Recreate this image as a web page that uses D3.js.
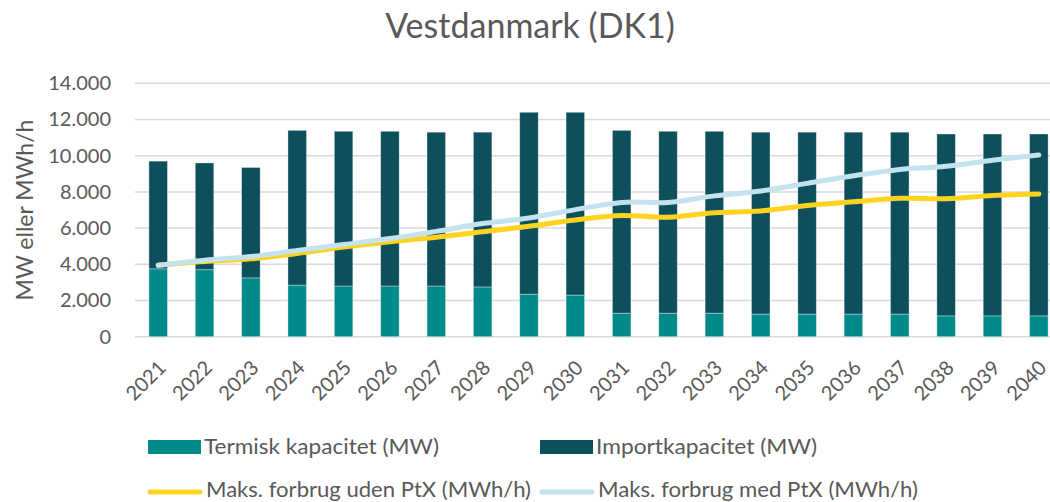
<!DOCTYPE html>
<html>
<head>
<meta charset="utf-8">
<script src="https://cdn.jsdelivr.net/npm/d3@7"></script>
<style>
  body { margin: 0; background: #fff; }
  svg { display: block; font-family: Lato, "Open Sans", sans-serif; }
</style>
</head>
<body>
<svg id="chart" width="1050" height="502"></svg>
<script>
// data
var years = ["2021","2022","2023","2024","2025","2026","2027","2028","2029","2030",
             "2031","2032","2033","2034","2035","2036","2037","2038","2039","2040"];
var termisk = [3750,3700,3250,2850,2800,2800,2800,2750,2350,2300,
               1300,1300,1300,1250,1250,1250,1250,1150,1150,1150];
var totalKap = [9700,9600,9350,11400,11350,11350,11300,11300,12400,12400,
                11400,11350,11350,11300,11300,11300,11300,11200,11200,11200];
var importKap = totalKap.map(function(t, i){ return t - termisk[i]; });
var udenPtX = [3950,4150,4300,4600,4950,5250,5500,5800,6100,6450,
               6700,6600,6850,6950,7250,7450,7650,7620,7800,7890];
var medPtX = [3950,4230,4430,4760,5090,5420,5820,6250,6560,7020,
              7420,7420,7780,8050,8470,8890,9240,9420,9750,10040];
var yTicks = [0,2000,4000,6000,8000,10000,12000,14000];

var textColor = "#595959";
var cTermisk = "#008A8A", cImport = "#0D4F5C";
var cUden = "#FFD320", cMed = "#C5E3EF";

var svg = d3.select("#chart");

var x = d3.scaleBand()
    .domain(years)
    .range([135, 1062])
    .paddingInner(0.6)
    .paddingOuter(0.3);
var y = d3.scaleLinear()
    .domain([0, 14000])
    .range([336.7, 83.3]);

var fmt = function(v){ return d3.format(",")(v).replace(/,/g, "."); };

// title
svg.append("text")
    .attr("x", 530).attr("y", 38)
    .attr("text-anchor", "middle")
    .attr("fill", textColor)
    .style("font-size", "34px")
    .text("Vestdanmark (DK1)");

// gridlines
svg.append("g").selectAll("line")
    .data(yTicks)
    .enter().append("line")
    .attr("x1", 135).attr("x2", 1062)
    .attr("y1", function(d){ return y(d); })
    .attr("y2", function(d){ return y(d); })
    .attr("stroke", "#D9D9D9")
    .attr("stroke-width", 1.5);

// y axis
var yAxis = svg.append("g")
    .attr("transform", "translate(124,0)")
    .call(d3.axisLeft(y).tickValues(yTicks).tickFormat(fmt).tickSize(0));
yAxis.select(".domain").remove();
yAxis.selectAll("text")
    .attr("fill", textColor)
    .attr("x", -13)
    .style("font-size", "20px")
    .style("font-family", "Lato, 'Open Sans', sans-serif");

svg.append("text")
    .attr("transform", "translate(33,210) rotate(-90)")
    .attr("text-anchor", "middle")
    .attr("fill", textColor)
    .style("font-size", "23px")
    .text("MW eller MWh/h");

// stacked bars
var stackData = years.map(function(yr, i){
    return { year: yr, termisk: termisk[i], importKap: importKap[i] };
});
var series = d3.stack().keys(["termisk", "importKap"])(stackData);
var colors = { termisk: cTermisk, importKap: cImport };

svg.append("g").selectAll("g")
    .data(series)
    .enter().append("g")
    .attr("fill", function(s){ return colors[s.key]; })
    .selectAll("rect")
    .data(function(s){ return s; })
    .enter().append("rect")
    .attr("x", function(d){ return x(d.data.year); })
    .attr("width", x.bandwidth())
    .attr("y", function(d){ return y(d[1]); })
    .attr("height", function(d){ return y(d[0]) - y(d[1]); })
    .attr("stroke", "#ffffff")
    .attr("stroke-opacity", 0.45)
    .attr("stroke-width", 0.8);

// x axis labels
var xAxis = svg.append("g")
    .attr("transform", "translate(0,337)")
    .call(d3.axisBottom(x).tickSize(0));
xAxis.select(".domain").remove();
xAxis.selectAll("text")
    .attr("fill", textColor)
    .style("font-size", "20px")
    .style("font-family", "Lato, 'Open Sans', sans-serif")
    .attr("text-anchor", "end")
    .attr("dy", null)
    .attr("y", 0)
    .attr("transform", "translate(9,32) rotate(-45)");

// lines
var line = d3.line()
    .x(function(d, i){ return x(years[i]) + x.bandwidth() / 2; })
    .y(function(d){ return y(d); })
    .curve(d3.curveCatmullRom.alpha(0.5));

svg.append("path")
    .attr("d", line(udenPtX))
    .attr("fill", "none")
    .attr("stroke", cUden)
    .attr("stroke-width", 5)
    .attr("stroke-linecap", "round");
svg.append("path")
    .attr("d", line(medPtX))
    .attr("fill", "none")
    .attr("stroke", cMed)
    .attr("stroke-width", 5)
    .attr("stroke-linecap", "round");

// legend
var legend = svg.append("g").style("font-size", "21px").attr("fill", textColor);
var barLegend = [
    { label: "Termisk kapacitet (MW)", color: cTermisk, x: 148, w: 235 },
    { label: "Importkapacitet (MW)", color: cImport, x: 540, w: 221 }
];
barLegend.forEach(function(d){
    legend.append("rect")
        .attr("x", d.x).attr("y", 440)
        .attr("width", 53).attr("height", 14)
        .attr("fill", d.color);
    legend.append("text")
        .attr("x", d.x + 56).attr("y", 454)
        .attr("fill", textColor)
        .attr("textLength", d.w)
        .attr("lengthAdjust", "spacingAndGlyphs")
        .text(d.label);
});
var lineLegend = [
    { label: "Maks. forbrug uden PtX (MWh/h)", color: cUden, x: 148, w: 325 },
    { label: "Maks. forbrug med PtX (MWh/h)", color: cMed, x: 540, w: 320 }
];
lineLegend.forEach(function(d){
    legend.append("line")
        .attr("x1", d.x + 2).attr("x2", d.x + 52)
        .attr("y1", 492).attr("y2", 492)
        .attr("stroke", d.color)
        .attr("stroke-width", 5)
        .attr("stroke-linecap", "round");
    legend.append("text")
        .attr("x", d.x + 58).attr("y", 497)
        .attr("fill", textColor)
        .attr("textLength", d.w)
        .attr("lengthAdjust", "spacingAndGlyphs")
        .text(d.label);
});
</script>
</body>
</html>
